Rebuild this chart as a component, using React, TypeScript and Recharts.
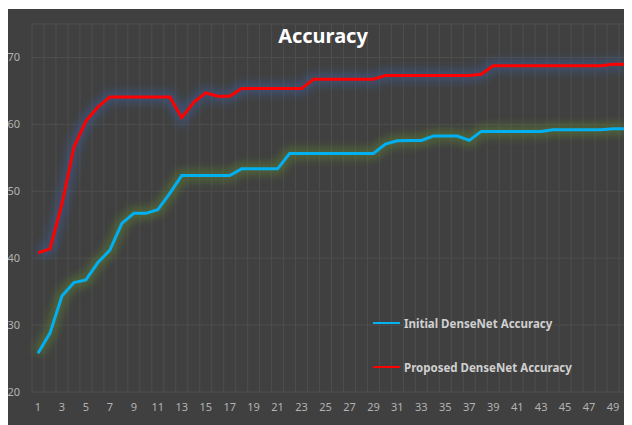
import React from 'react';
import { LineChart, Line, XAxis, YAxis, CartesianGrid } from 'recharts';

const epochs = [
    1, 2, 3, 4, 5, 6, 7, 8, 9, 10, 11, 12, 13, 14, 15, 16, 17, 18, 19, 20, 21, 22, 23, 24, 25,
    26, 27, 28, 29, 30, 31, 32, 33, 34, 35, 36, 37, 38, 39, 40, 41, 42, 43, 44, 45, 46, 47, 48, 49, 50,
];

const initialAccuracy = [
    25.8, 28.8, 34.35, 36.35, 36.75, 39.35, 41.2, 45.2, 46.7, 46.7, 47.25, 49.7, 52.35,
    52.35, 52.35, 52.35, 52.35, 53.35, 53.35, 53.35, 53.35,
    55.65, 55.65, 55.65, 55.65, 55.65, 55.65, 55.65, 55.65,
    57.05, 57.55, 57.6, 57.6, 58.25, 58.25, 58.25, 57.6,
    58.95, 58.95, 58.95, 58.95, 58.95, 58.95,
    59.2, 59.2, 59.2, 59.2, 59.2, 59.35, 59.35,
];

const proposedAccuracy = [
    40.8, 41.4, 48.1, 56.6, 60.5, 62.6, 64.1, 64.1, 64.1, 64.1, 64.1, 64.1,
    61.0, 63.3, 64.7, 64.2, 64.2,
    65.35, 65.35, 65.35, 65.35, 65.35, 65.35,
    66.75, 66.75, 66.75, 66.75, 66.75, 66.75,
    67.3, 67.3, 67.3, 67.3, 67.3, 67.3, 67.3, 67.3, 67.5,
    68.75, 68.75, 68.75, 68.75, 68.75, 68.75, 68.75, 68.75, 68.75, 68.75, 69.0, 69.0,
];

const yTicks = [20, 30, 40, 50, 60, 70];

const BLUE = '#00b0f0';
const RED = '#ff0000';
const FONT = '"Noto Sans", "Open Sans", sans-serif';

const data = epochs.map((e, i) => ({
    epoch: e,
    initial: initialAccuracy[i],
    proposed: proposedAccuracy[i],
}));

const legendRows = [
    { name: 'Initial DenseNet Accuracy', color: BLUE },
    { name: 'Proposed DenseNet Accuracy', color: RED },
];

// legend sits inside the plot, two rows like the Excel one
const LegendBox = () => (
    <div style={{ position: 'absolute', left: 366, top: 306, zIndex: 2 }}>
        {legendRows.map((r, i) => (
            <div key={r.name} style={{ display: 'flex', alignItems: 'center', height: 16, marginBottom: i === 0 ? 28 : 0 }}>
                <span style={{ width: 27, height: 2, background: r.color, display: 'inline-block' }} />
                <span style={{ marginLeft: 4, color: '#d0d0d0', fontSize: 11.5, fontWeight: 700, fontFamily: FONT }}>
                    {r.name}
                </span>
            </div>
        ))}
    </div>
);

export default function App() {
    return (
        <div style={{ position: 'relative', width: 625, height: 417, background: '#404040', margin: '1px 0 0 -1px' }}>
            <style>{`
                .glow-line .recharts-line-curve, .recharts-line-curve.glow-line { filter: blur(4px); }
            `}</style>
            <div style={{
                position: 'absolute', top: 13, left: 216, width: 200, textAlign: 'center',
                color: '#ffffff', fontFamily: FONT, fontWeight: 700, fontSize: 20, zIndex: 2
            }}>
                Accuracy
            </div>
            <LegendBox />
            <LineChart width={625} height={417} data={data} margin={{ top: 15, right: 1, bottom: 4, left: 0 }}>
                <CartesianGrid
                    stroke="#4e4e4e"
                    verticalCoordinatesGenerator={({ offset }: any) =>
                        epochs.concat([0]).map((_, i) => offset.left + (i * offset.width) / epochs.length)
                    }
                />
                <XAxis
                    dataKey="epoch"
                    interval={1}
                    padding={{ left: 6, right: 6 }}
                    axisLine={false}
                    tickLine={false}
                    tickSize={0}
                    tickMargin={11}
                    height={30}
                    tick={{ fill: '#b3b3b3', fontSize: 11, fontFamily: FONT }}
                />
                <YAxis
                    domain={[20, 75]}
                    ticks={yTicks}
                    width={25}
                    axisLine={false}
                    tickLine={false}
                    tickSize={0}
                    tickMargin={12}
                    tick={{ fill: '#b3b3b3', fontSize: 11, fontFamily: FONT }}
                />
                <Line dataKey="initial" className="glow-line" stroke="#5a7a32" strokeOpacity={0.6} strokeWidth={12}
                    dot={false} activeDot={false} legendType="none" isAnimationActive={false} />
                <Line dataKey="proposed" className="glow-line" stroke="#3e5a8e" strokeOpacity={0.6} strokeWidth={12}
                    dot={false} activeDot={false} legendType="none" isAnimationActive={false} />
                <Line dataKey="initial" name="Initial DenseNet Accuracy" stroke={BLUE} strokeWidth={3}
                    dot={false} activeDot={false} isAnimationActive={false} />
                <Line dataKey="proposed" name="Proposed DenseNet Accuracy" stroke={RED} strokeWidth={3}
                    dot={false} activeDot={false} isAnimationActive={false} />
            </LineChart>
        </div>
    );
}
